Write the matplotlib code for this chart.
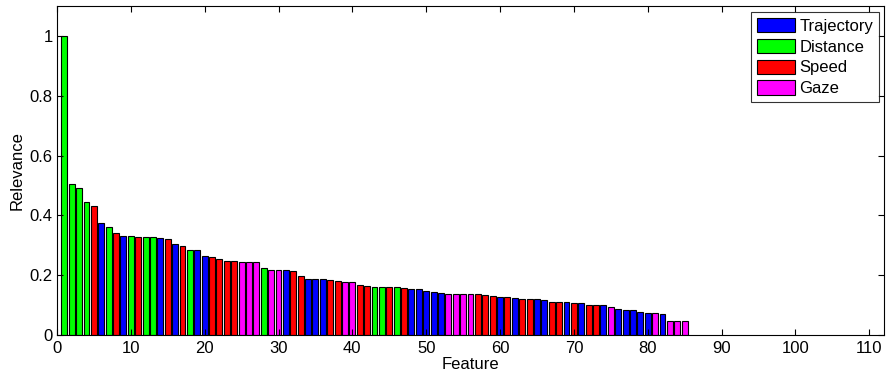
import matplotlib
matplotlib.use('Agg')
import matplotlib.pyplot as plt
import numpy as np
from matplotlib.patches import Patch

plt.rcParams['font.family'] = ['Liberation Sans', 'DejaVu Sans']

categories = ['Trajectory', 'Distance', 'Speed', 'Gaze']
colors = {'Trajectory': '#0000ff', 'Distance': '#00ff00', 'Speed': '#ff0000', 'Gaze': '#ff00ff'}

# relevance of each feature, sorted
relevance = [1.0, 0.505, 0.49, 0.444, 0.431, 0.373, 0.36, 0.342, 0.331, 0.33,
             0.329, 0.327, 0.327, 0.323, 0.321, 0.303, 0.298, 0.283, 0.283, 0.263,
             0.261, 0.255, 0.247, 0.247, 0.244, 0.244, 0.244, 0.224, 0.218, 0.218,
             0.217, 0.213, 0.196, 0.188, 0.187, 0.187, 0.183, 0.181, 0.176, 0.176,
             0.167, 0.164, 0.162, 0.162, 0.162, 0.162, 0.156, 0.153, 0.153, 0.146,
             0.144, 0.140, 0.138, 0.138, 0.137, 0.137, 0.136, 0.133, 0.129, 0.127,
             0.126, 0.123, 0.122, 0.122, 0.119, 0.117, 0.109, 0.109, 0.109, 0.107,
             0.107, 0.099, 0.099, 0.099, 0.093, 0.088, 0.084, 0.084, 0.078, 0.075,
             0.073, 0.070, 0.046, 0.046, 0.046]

# group of each feature: T = Trajectory, D = Distance, S = Speed, G = Gaze
kind = ['D', 'D', 'D', 'D', 'S', 'T', 'D', 'S', 'T', 'D',
        'S', 'D', 'D', 'T', 'S', 'T', 'S', 'D', 'T', 'T',
        'S', 'S', 'S', 'S', 'G', 'G', 'G', 'D', 'G', 'G',
        'T', 'S', 'S', 'T', 'T', 'T', 'S', 'S', 'G', 'G',
        'S', 'S', 'D', 'D', 'S', 'D', 'S', 'T', 'T', 'T',
        'T', 'T', 'G', 'G', 'G', 'G', 'S', 'S', 'S', 'T',
        'S', 'T', 'S', 'S', 'T', 'T', 'S', 'S', 'T', 'S',
        'T', 'S', 'S', 'T', 'G', 'T', 'T', 'T', 'T', 'T',
        'G', 'T', 'G', 'G', 'G']
name_of = {'T': 'Trajectory', 'D': 'Distance', 'S': 'Speed', 'G': 'Gaze'}

features = np.arange(1, len(relevance) + 1)
bar_colors = [colors[name_of[k]] for k in kind]

fig = plt.figure(figsize=(8.89, 3.74), dpi=100)
ax = fig.add_axes([0.0641, 0.1043, 0.9303, 0.8797])

ax.bar(features, relevance, width=0.8, color=bar_colors, edgecolor='black', linewidth=0.8)

ax.set_xlim(0, 112)
ax.set_ylim(0, 1.1)
ax.set_xticks(np.arange(0, 111, 10))
ax.set_yticks([0, 0.2, 0.4, 0.6, 0.8, 1])
ax.set_yticklabels(['0', '0.2', '0.4', '0.6', '0.8', '1'])
ax.tick_params(direction='in', top=True, right=True, labelsize=12, length=4)
ax.tick_params(axis='x', pad=4)
ax.tick_params(axis='y', pad=3)
ax.set_xlabel('Feature', fontsize=12, labelpad=1)
ax.set_ylabel('Relevance', fontsize=12, labelpad=4)
for s in ax.spines.values():
    s.set_linewidth(0.8)

handles = [Patch(facecolor=colors[c], edgecolor='black', linewidth=0.8, label=c) for c in categories]
leg = ax.legend(handles=handles, loc='upper right', bbox_to_anchor=(0.994, 0.982),
                fontsize=12, handlelength=2.3, handleheight=0.95, handletextpad=0.25,
                labelspacing=0.3, borderpad=0.35, borderaxespad=0, fancybox=False)
leg.get_frame().set_edgecolor('black')
leg.get_frame().set_linewidth(0.8)

fig.savefig('out.png', dpi=100)
